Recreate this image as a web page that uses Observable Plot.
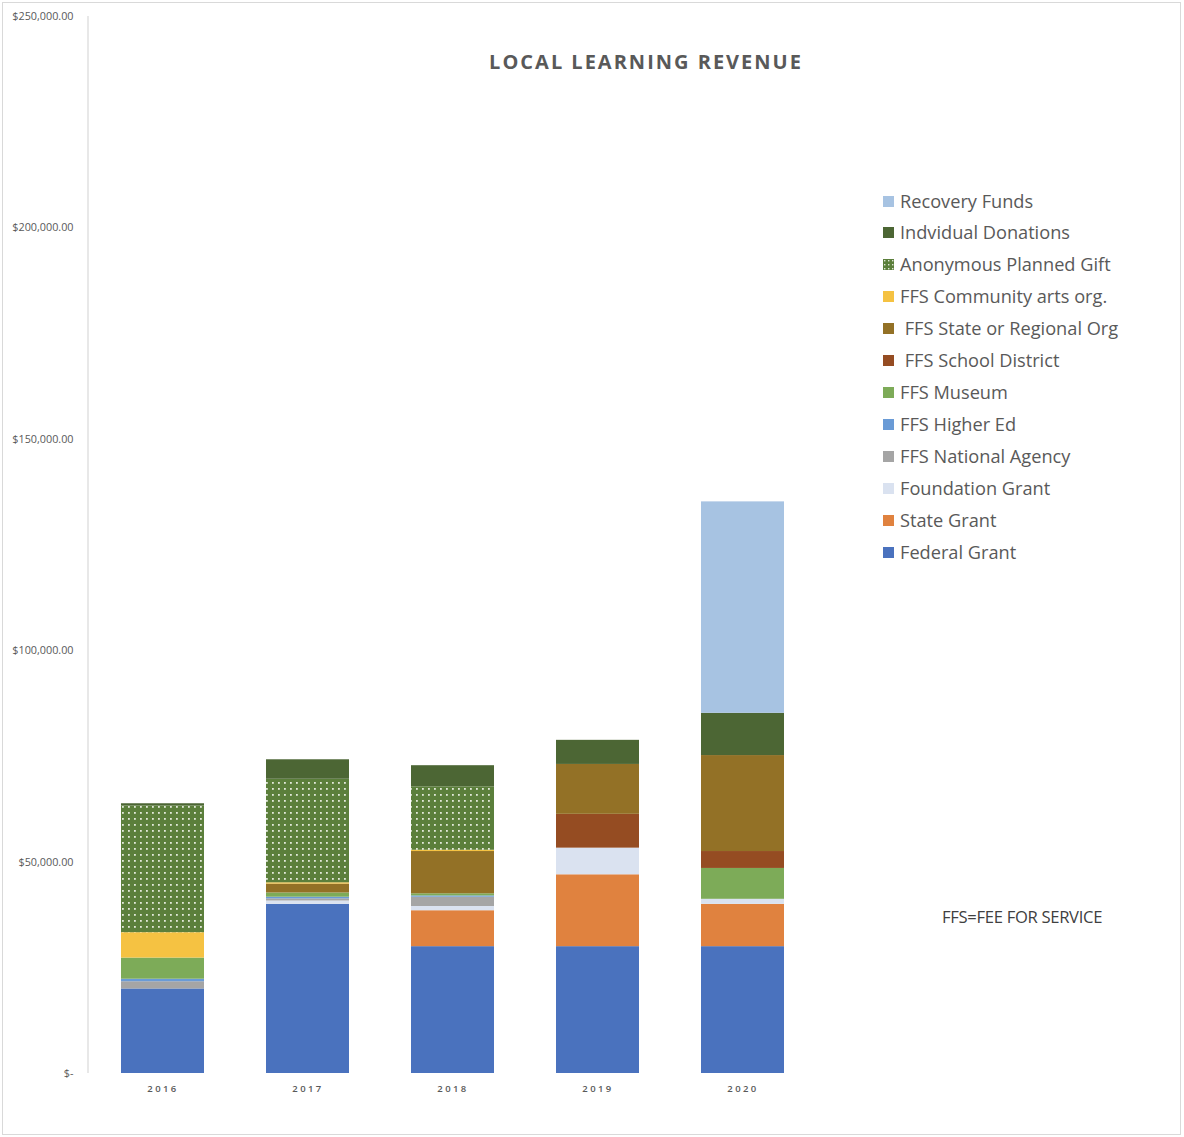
<!DOCTYPE html>
<html>
<head>
<meta charset="utf-8">
<script src="https://cdn.jsdelivr.net/npm/d3@7"></script>
<script src="https://cdn.jsdelivr.net/npm/@observablehq/plot@0.6"></script>
<style>
  html, body { margin: 0; padding: 0; background: #fff; }
  #wrap { position: relative; width: 1184px; height: 1137px; font-family: "Open Sans", Lato, sans-serif; }
  #frame { position: absolute; left: 2px; top: 2px; width: 1179px; height: 1133px; border: 1px solid #d9d9d9; box-sizing: border-box; pointer-events: none; }
  #title { position: absolute; left: 646px; top: 61px; transform: translate(-50%, -50%); font-size: 20px; font-weight: 700; letter-spacing: 2px; color: #595959; white-space: nowrap; }
  #legend { position: absolute; left: 883px; top: 0; }
  .li { position: absolute; left: 0; white-space: nowrap; font-size: 18.2px; color: #595959; display: flex; align-items: center; transform: translateY(-50%); }
  .sw { width: 11px; height: 11px; margin-right: 6px; flex: none; }
  .sw svg { display: block; }
  #note { position: absolute; left: 942px; top: 916px; transform: translateY(-50%); font-size: 16.6px; color: #404040; white-space: nowrap; letter-spacing: -0.3px; }
  .xlab text { letter-spacing: 2.4px; }
</style>
</head>
<body>
<div id="wrap">
  <div id="chart"></div>
  <div id="frame"></div>
  <div id="title">LOCAL LEARNING REVENUE</div>
  <div id="legend"></div>
  <div id="note">FFS=FEE FOR SERVICE</div>
</div>
<script>
const years = ["2016", "2017", "2018", "2019", "2020"];
// series listed bottom-to-top in stacking order
const seriesNames = [
  "Federal Grant",
  "State Grant",
  "Foundation Grant",
  "FFS National Agency",
  "FFS Higher Ed",
  "FFS Museum",
  " FFS School District",
  " FFS State or Regional Org",
  "FFS Community arts org.",
  "Anonymous Planned Gift",
  "Indvidual Donations",
  "Recovery Funds"
];
const seriesColors = [
  "#4A72BE", "#E0823F", "#DAE2F0", "#A5A5A5", "#6A9BD6", "#7DAB58",
  "#954C22", "#937126", "#F5C242", "url(#dotpat)", "#4C6634", "#A7C3E2"
];
const federalGrant      = [20000, 40000, 30000, 30000, 30000];
const stateGrant        = [0, 0, 8500, 17000, 10000];
const foundationGrant   = [0, 800, 1000, 6300, 1200];
const ffsNationalAgency = [1700, 500, 2200, 0, 0];
const ffsHigherEd       = [600, 400, 300, 0, 0];
const ffsMuseum         = [5000, 1000, 500, 0, 7300];
const ffsSchoolDistrict = [0, 0, 0, 8000, 4000];
const ffsStateRegional  = [0, 2100, 10000, 11800, 22700];
const ffsCommunityArts  = [6000, 300, 300, 0, 0];
const anonymousGift     = [30000, 24500, 15000, 0, 0];
const individualDonations = [500, 4600, 5000, 5700, 10000];
const recoveryFunds     = [0, 0, 0, 0, 50000];
const yTicks = [0, 50000, 100000, 150000, 200000, 250000];

const seriesValues = [federalGrant, stateGrant, foundationGrant, ffsNationalAgency, ffsHigherEd,
  ffsMuseum, ffsSchoolDistrict, ffsStateRegional, ffsCommunityArts, anonymousGift,
  individualDonations, recoveryFunds];

const rows = [];
years.forEach((y, i) => {
  seriesNames.forEach((s, k) => {
    rows.push({year: y, series: s, order: k, value: seriesValues[k][i]});
  });
});

const fmt = d => d === 0 ? "$-" : "$" + d3.format(",.2f")(d);

// vertical axis line at the left edge of the frame
function leftAxisLine(index, scales, values, dimensions) {
  const line = document.createElementNS("http://www.w3.org/2000/svg", "line");
  const x = dimensions.marginLeft;
  line.setAttribute("x1", x);
  line.setAttribute("x2", x);
  line.setAttribute("y1", scales.y(250000));
  line.setAttribute("y2", scales.y(0));
  line.setAttribute("stroke", "#d9d9d9");
  line.setAttribute("stroke-width", 1.2);
  return line;
}

const plot = Plot.plot({
  width: 1184,
  height: 1137,
  marginLeft: 88,
  marginRight: 279,
  marginTop: 16,
  marginBottom: 64,
  style: {background: "transparent", fontFamily: "'Open Sans', Lato, sans-serif"},
  x: {domain: years, range: [88, 817], paddingInner: 0.43, paddingOuter: 0.215, label: null},
  y: {domain: [0, 250000], label: null},
  color: {domain: seriesNames, range: seriesColors},
  marks: [
    Plot.ruleY(yTicks, {stroke: "#d9d9d9", strokeWidth: 1.2, x1: 85, x2: 905, x: null}),
    leftAxisLine,
    Plot.barY(rows, Plot.stackY({
      x: "year", y: "value", fill: "series", order: "order", insetLeft: 0, insetRight: 0
    })),
    Plot.axisY({ticks: yTicks, tickSize: 0, tickPadding: 15, tickFormat: fmt, fontSize: 10.8, color: "#595959", label: null}),
    Plot.axisX({tickSize: 0, tickPadding: 12, fontSize: 9.5, color: "#595959", label: null, fontWeight: 600, className: "xlab"})
  ]
});

// dot pattern for Anonymous Planned Gift
const NS = "http://www.w3.org/2000/svg";
const defs = document.createElementNS(NS, "defs");
defs.innerHTML = '<pattern id="dotpat" patternUnits="userSpaceOnUse" width="6" height="6">' +
  '<rect width="6" height="6" fill="#5B7F3B"/>' +
  '<rect x="2" y="2" width="1.8" height="1.8" fill="#e3e9db"/></pattern>' +
  '<pattern id="dotpat2" patternUnits="userSpaceOnUse" width="4" height="4">' +
  '<rect width="4" height="4" fill="#5B7F3B"/>' +
  '<rect x="1" y="1" width="1.4" height="1.4" fill="#dfe6d6"/></pattern>';
plot.insertBefore(defs, plot.firstChild);
plot.querySelectorAll('[aria-label="x-axis tick label"] text').forEach(t => t.setAttribute("letter-spacing", "2.4"));
document.getElementById("chart").appendChild(plot);

// legend (top-to-bottom is reverse stacking order)
const legendY = [201, 232, 264, 296, 328, 360, 392, 424, 456, 488, 520, 552];
const legend = document.getElementById("legend");
seriesNames.slice().reverse().forEach((s, i) => {
  const k = seriesNames.length - 1 - i;
  const item = document.createElement("div");
  item.className = "li";
  item.style.top = legendY[i] + "px";
  const sw = document.createElement("div");
  sw.className = "sw";
  if (seriesColors[k].startsWith("url")) {
    sw.innerHTML = '<svg width="11" height="11"><rect width="11" height="11" fill="url(#dotpat2)"/></svg>';
  } else {
    sw.style.background = seriesColors[k];
  }
  const tx = document.createElement("span");
  tx.textContent = s;
  tx.style.whiteSpace = "pre";
  item.appendChild(sw);
  item.appendChild(tx);
  legend.appendChild(item);
});
</script>
</body>
</html>
